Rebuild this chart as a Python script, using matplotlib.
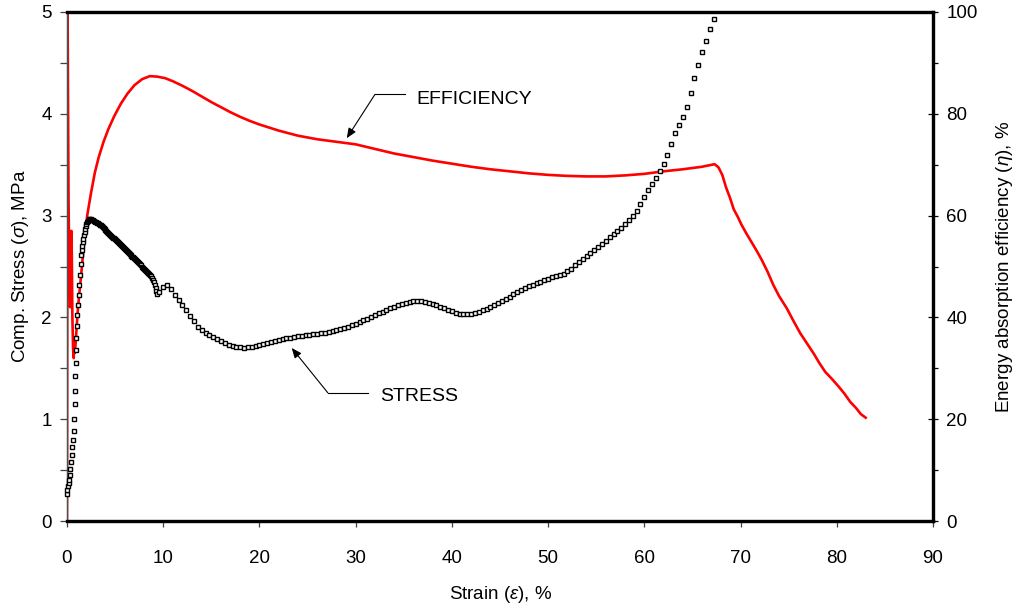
import numpy as np
import matplotlib
matplotlib.use("Agg")
import matplotlib.pyplot as plt
from matplotlib.ticker import MultipleLocator

plt.rcParams['font.family'] = ['Liberation Sans', 'DejaVu Sans']
plt.rcParams['mathtext.fontset'] = 'custom'
plt.rcParams['mathtext.rm'] = 'Liberation Sans'
plt.rcParams['mathtext.it'] = 'Liberation Sans:italic'

# ---------------- data ----------------
# stress: initial rise
strain_rise = [0, 0.05, 0.12, 0.18, 0.24, 0.3, 0.36, 0.42, 0.48, 0.55, 0.62, 0.68,
               0.73, 0.78, 0.83, 0.87, 0.9, 0.94, 0.98, 1.03, 1.08, 1.14, 1.2, 1.27,
               1.34, 1.42, 1.5, 1.55, 1.6, 1.65, 1.7, 1.76, 1.82, 1.88, 1.95, 2.02,
               2.1, 2.18, 2.25, 2.32]
stress_rise = [0.27, 0.30, 0.34, 0.37, 0.40, 0.45, 0.51, 0.58, 0.65, 0.73, 0.80, 0.88,
               1.00, 1.15, 1.28, 1.42, 1.55, 1.68, 1.80, 1.92, 2.02, 2.12, 2.22, 2.32,
               2.42, 2.52, 2.61, 2.66, 2.70, 2.74, 2.77, 2.81, 2.84, 2.87, 2.90, 2.92,
               2.94, 2.95, 2.96, 2.97]
# stress: dense softening branch
strain_soft = [2.4, 2.5, 2.6, 2.7, 2.8, 2.9, 3.0, 3.1, 3.2, 3.3, 3.4, 3.5, 3.6, 3.7,
               3.8, 3.9, 4.0, 4.1, 4.2, 4.3, 4.4, 4.5, 4.6, 4.7, 4.8, 4.9, 5.0, 5.1,
               5.2, 5.3, 5.4, 5.5, 5.6, 5.7, 5.8, 5.9, 6.0, 6.1, 6.2, 6.3, 6.4, 6.5,
               6.6, 6.7, 6.8, 6.9, 7.0, 7.1, 7.2, 7.3, 7.4, 7.5, 7.6, 7.7, 7.8, 7.9,
               8.0, 8.1, 8.2, 8.3, 8.4, 8.5, 8.6, 8.7, 8.8, 8.9, 9.0, 9.1, 9.2, 9.3,
               9.4]
stress_soft = [2.97, 2.97, 2.96, 2.96, 2.95, 2.94, 2.94, 2.93, 2.93, 2.92, 2.91, 2.91,
               2.90, 2.89, 2.88, 2.87, 2.86, 2.85, 2.84, 2.83, 2.82, 2.81, 2.80, 2.79,
               2.78, 2.78, 2.77, 2.76, 2.75, 2.74, 2.73, 2.72, 2.71, 2.70, 2.69, 2.68,
               2.67, 2.66, 2.65, 2.64, 2.63, 2.62, 2.61, 2.60, 2.59, 2.59, 2.58, 2.57,
               2.56, 2.55, 2.54, 2.53, 2.52, 2.51, 2.50, 2.49, 2.48, 2.47, 2.46, 2.45,
               2.44, 2.43, 2.42, 2.41, 2.39, 2.37, 2.35, 2.32, 2.29, 2.26, 2.23]
# stress: plateau and densification
strain_plat = [9.6, 10.0, 10.4, 10.8, 11.2, 11.6, 12.0, 12.4, 12.8, 13.2, 13.6, 14.0,
               14.4, 14.8, 15.2, 15.6, 16.0, 16.4, 16.8, 17.2, 17.6, 18.0, 18.4, 18.8,
               19.2, 19.6, 20.0, 20.4, 20.8, 21.2, 21.6, 22.0, 22.4, 22.8, 23.2, 23.6,
               24.0, 24.4, 24.8, 25.2, 25.6, 26.0, 26.4, 26.8, 27.2, 27.6, 28.0, 28.4,
               28.8, 29.2, 29.6, 30.0, 30.4, 30.8, 31.2, 31.6, 32.0, 32.4, 32.8, 33.2,
               33.6, 34.0, 34.4, 34.8, 35.2, 35.6, 36.0, 36.4, 36.8, 37.2, 37.6, 38.0,
               38.4, 38.8, 39.2, 39.6, 40.0, 40.4, 40.8, 41.2, 41.6, 42.0, 42.4, 42.8,
               43.2, 43.6, 44.0, 44.4, 44.8, 45.2, 45.6, 46.0, 46.4, 46.8, 47.2, 47.6,
               48.0, 48.4, 48.8, 49.2, 49.6, 50.0, 50.4, 50.8, 51.2, 51.6, 52.0, 52.4,
               52.8, 53.2, 53.6, 54.0, 54.4, 54.8, 55.2, 55.6, 56.0, 56.4, 56.8, 57.2,
               57.6, 58.0, 58.4, 58.8, 59.2, 59.6, 60.0, 60.4, 60.8, 61.2, 61.6, 62.0,
               62.4, 62.8, 63.2, 63.6, 64.0, 64.4, 64.8, 65.2, 65.6, 66.0, 66.4, 66.8,
               67.2]
stress_plat = [2.25, 2.30, 2.32, 2.28, 2.22, 2.17, 2.12, 2.07, 2.01, 1.96, 1.91, 1.88,
               1.85, 1.83, 1.81, 1.79, 1.77, 1.75, 1.73, 1.72, 1.71, 1.71, 1.70, 1.71,
               1.71, 1.72, 1.73, 1.74, 1.75, 1.76, 1.77, 1.78, 1.79, 1.80, 1.80, 1.81,
               1.82, 1.82, 1.83, 1.83, 1.84, 1.84, 1.85, 1.85, 1.86, 1.87, 1.88, 1.89,
               1.90, 1.91, 1.93, 1.94, 1.95, 1.97, 1.98, 2.00, 2.02, 2.04, 2.05, 2.07,
               2.09, 2.10, 2.12, 2.13, 2.14, 2.15, 2.16, 2.16, 2.16, 2.15, 2.14, 2.13,
               2.12, 2.10, 2.09, 2.07, 2.06, 2.04, 2.03, 2.03, 2.03, 2.03, 2.04, 2.05,
               2.07, 2.08, 2.10, 2.12, 2.14, 2.16, 2.18, 2.20, 2.23, 2.25, 2.27, 2.29,
               2.31, 2.32, 2.34, 2.35, 2.37, 2.38, 2.40, 2.41, 2.42, 2.43, 2.46, 2.48,
               2.51, 2.54, 2.57, 2.60, 2.63, 2.66, 2.69, 2.72, 2.75, 2.79, 2.82, 2.85,
               2.88, 2.92, 2.96, 3.00, 3.05, 3.11, 3.18, 3.25, 3.31, 3.37, 3.44, 3.51,
               3.60, 3.70, 3.81, 3.89, 3.97, 4.07, 4.20, 4.35, 4.48, 4.61, 4.72, 4.83,
               4.93]

# energy absorption efficiency (%)
eff_strain = [0, 0.06, 0.1, 0.16, 0.24, 0.32, 0.4, 0.45, 0.5, 0.56,
              0.63, 0.7, 0.75, 0.8, 0.9, 1.0, 1.15, 1.3, 1.5, 1.8,
              2.1, 2.5, 2.9, 3.3, 3.8, 4.3, 4.9, 5.6, 6.3, 7.0,
              7.8, 8.6, 9.4, 10.2, 11, 12, 13, 14, 15, 16,
              17, 18, 19, 20, 22, 24, 26, 28, 30, 32,
              34, 36, 38, 40, 42, 44, 46, 48, 50, 52,
              54, 56, 58, 60, 62, 64, 66, 67.3, 67.7, 68.1,
              68.5, 68.9, 69.3, 69.7, 70.1, 70.6, 71.2, 71.7, 72.2, 72.8,
              73.4, 74.0, 74.8, 75.5, 76.2, 76.9, 77.6, 78.2, 78.8, 79.5,
              80.2, 80.8, 81.4, 82.0, 82.5, 83.0]
efficiency = [0, 100, 85, 63, 50, 42, 44, 57, 52, 40,
              34, 32, 36, 33, 35, 38, 42, 45, 49, 55,
              60, 64.5, 68.5, 71.5, 74.5, 77, 79.5, 82, 84, 85.6,
              86.8, 87.4, 87.3, 87.0, 86.4, 85.5, 84.5, 83.4, 82.3, 81.3,
              80.3, 79.4, 78.6, 77.9, 76.7, 75.7, 75.0, 74.5, 74.0, 73.1,
              72.2, 71.5, 70.8, 70.2, 69.6, 69.1, 68.7, 68.3, 68.0, 67.8,
              67.7, 67.7, 67.9, 68.2, 68.7, 69.1, 69.6, 70.1, 69.5, 68.0,
              65.5, 63.5, 61.2, 59.8, 58.2, 56.5, 54.6, 53.0, 51.3, 49.0,
              46.4, 44.2, 41.8, 39.3, 36.9, 34.9, 32.9, 31.0, 29.3, 27.9,
              26.4, 25.0, 23.4, 22.2, 21.0, 20.3]

strain_all = strain_rise + strain_soft + strain_plat
stress_all = stress_rise + stress_soft + stress_plat

# ---------------- figure ----------------
fig = plt.figure(figsize=(10.15, 6.11), dpi=100)
ax = fig.add_axes([67/1015, 90/611, 866/1015, 509/611])
ax2 = ax.twinx()

ax.plot(strain_all, stress_all, linestyle='none', marker='s', markersize=2.5,
        markerfacecolor='white', markeredgecolor='black', markeredgewidth=1.0,
        zorder=3, clip_on=False)
ax2.plot(eff_strain, efficiency, color='#ff0000', linewidth=1.9, zorder=2,
         solid_joinstyle='round')

ax.set_xlim(0, 90)
ax.set_ylim(0, 5)
ax2.set_ylim(0, 100)
ax.set_zorder(ax2.get_zorder() + 1)
ax.patch.set_visible(False)

ax.xaxis.set_major_locator(MultipleLocator(10))
ax.yaxis.set_major_locator(MultipleLocator(1))
ax.yaxis.set_minor_locator(MultipleLocator(0.5))
ax2.yaxis.set_major_locator(MultipleLocator(20))
ax2.yaxis.set_minor_locator(MultipleLocator(10))

fs = 13.5
ax.tick_params(axis='x', which='major', direction='out', length=4, width=0.9,
               labelsize=fs, pad=17, color='#404040')
ax.tick_params(axis='y', which='both', direction='out', length=5, width=0.9,
               labelsize=fs, pad=6, color='#404040')
ax2.tick_params(axis='y', which='major', direction='inout', length=7, width=0.9,
                labelsize=fs, pad=6)
ax2.tick_params(axis='y', which='minor', direction='out', length=3.5, width=0.9)
ax.tick_params(top=False, right=False)

for a in (ax, ax2):
    a.spines['top'].set_linewidth(2.3)
    a.spines['bottom'].set_linewidth(2.3)
    a.spines['right'].set_linewidth(2.3)
    a.spines['left'].set_linewidth(0.9)
    a.spines['left'].set_color('#505050')

ax.set_xlabel(r'Strain ($\varepsilon$), %', fontsize=fs)
ax.xaxis.set_label_coords(0.501, -0.123)
ax.set_ylabel(r'Comp. Stress ($\sigma$), MPa', fontsize=fs)
ax.yaxis.set_label_coords(-0.0415, 0.5)
ax2.set_ylabel(r'Energy absorption efficiency ($\eta$), %', fontsize=fs,
               rotation=90)
ax2.yaxis.set_label_coords(1.0705, 0.5)

# annotations
arrow_kw = dict(arrowstyle='-|>,head_length=0.6,head_width=0.25', color='black',
                lw=0.8, shrinkA=0, shrinkB=0, mutation_scale=10)
ax.plot([32.0, 35.1], [4.19, 4.19], color='black', lw=0.8)
ax.annotate('', xy=(29.07, 3.76), xytext=(32.0, 4.19), arrowprops=arrow_kw)
ax.text(36.3, 4.14, 'EFFICIENCY', fontsize=14, va='center', ha='left')

ax.plot([27.1, 31.3], [1.26, 1.26], color='black', lw=0.8)
ax.annotate('', xy=(23.35, 1.70), xytext=(27.1, 1.26), arrowprops=arrow_kw)
ax.text(32.5, 1.22, 'STRESS', fontsize=14, va='center', ha='left')

fig.savefig('out.png', dpi=100)
